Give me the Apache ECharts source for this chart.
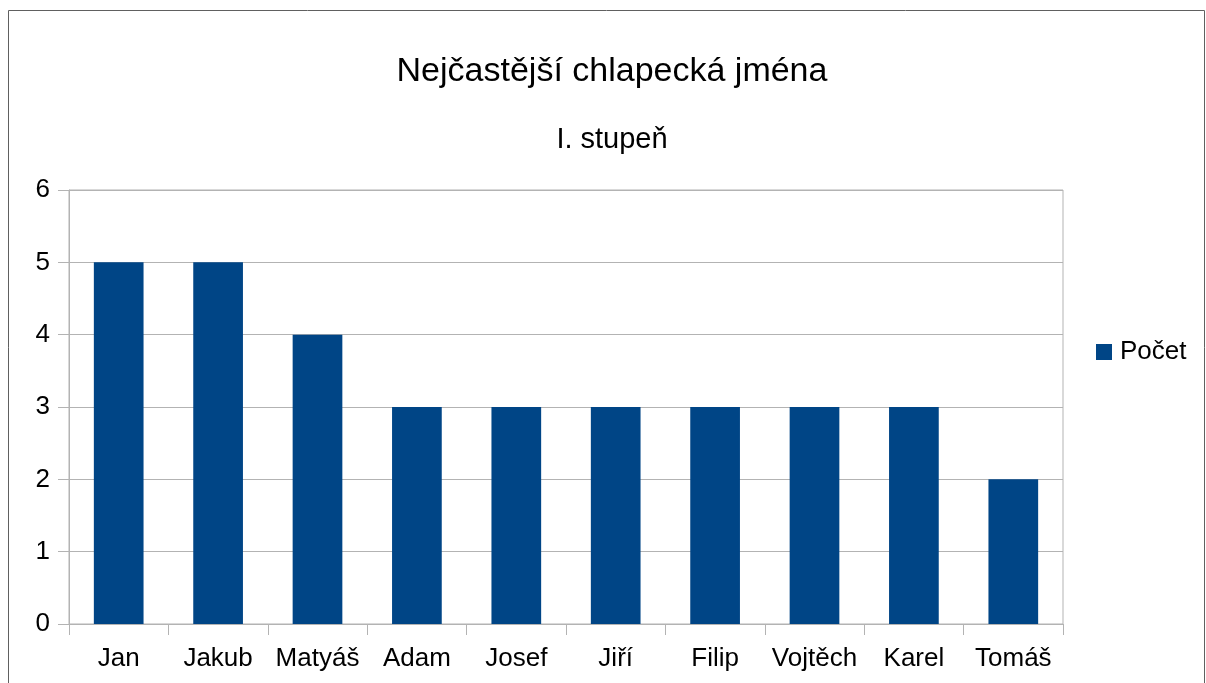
<!DOCTYPE html>
<html>
<head>
<meta charset="utf-8">
<script src="https://cdn.jsdelivr.net/npm/echarts@6/dist/echarts.min.js"></script>
<style>
  html, body { margin: 0; padding: 0; background: #fff; }
  #chart { width: 1206px; height: 683px; }
</style>
</head>
<body>
<div id="chart"></div>
<script>
const names = ['Jan', 'Jakub', 'Matyáš', 'Adam', 'Josef', 'Jiří', 'Filip', 'Vojtěch', 'Karel', 'Tomáš'];
const counts = [5, 5, 4, 3, 3, 3, 3, 3, 3, 2];
const seriesName = 'Počet';

const font = 'Liberation Sans, Arial, sans-serif';
const gridColor = '#b3b3b3';

const chart = echarts.init(document.getElementById('chart'));

chart.setOption({
  animation: false,
  textStyle: { fontFamily: font },
  title: [
    {
      text: 'Nejčastější chlapecká jména',
      left: 607,
      top: 50,
      textAlign: 'center',
      textStyle: { fontSize: 34, fontWeight: 'normal', color: '#000', fontFamily: font },
    },
    {
      text: 'I. stupeň',
      left: 607,
      top: 120,
      textAlign: 'center',
      textStyle: { fontSize: 29, fontWeight: 'normal', color: '#000', fontFamily: font },
    },
  ],
  graphic: [
    {
      type: 'rect',
      shape: { x: 8.5, y: 10.5, width: 1196, height: 700 },
      style: { fill: 'none', stroke: '#606060', lineWidth: 1 },
      silent: true,
    },
  ],
  legend: {
    data: [seriesName],
    left: 1096,
    top: 339,
    padding: 0,
    icon: 'rect',
    itemWidth: 16,
    itemHeight: 16,
    textStyle: { fontSize: 26, color: '#000', fontFamily: font, padding: [0, 0, 0, 3] },
  },
  grid: {
    left: 69,
    right: 143,
    top: 190,
    bottom: 59,
    show: true,
    borderColor: gridColor,
    borderWidth: 1,
  },
  xAxis: {
    type: 'category',
    data: names,
    axisLine: { lineStyle: { color: gridColor } },
    axisTick: { show: true, length: 11, alignWithLabel: false, lineStyle: { color: gridColor } },
    axisLabel: { color: '#000', fontSize: 26, margin: 22, interval: 0, fontFamily: font },
  },
  yAxis: {
    type: 'value',
    min: 0,
    max: 6,
    interval: 1,
    axisLine: { show: true, lineStyle: { color: gridColor } },
    axisTick: { show: true, length: 11, lineStyle: { color: gridColor } },
    axisLabel: { color: '#000', fontSize: 26, margin: 19, fontFamily: font },
    splitLine: { lineStyle: { color: gridColor } },
  },
  series: [
    {
      name: seriesName,
      type: 'bar',
      data: counts,
      barWidth: '50%',
      itemStyle: { color: '#004586' },
    },
  ],
});
</script>
</body>
</html>
